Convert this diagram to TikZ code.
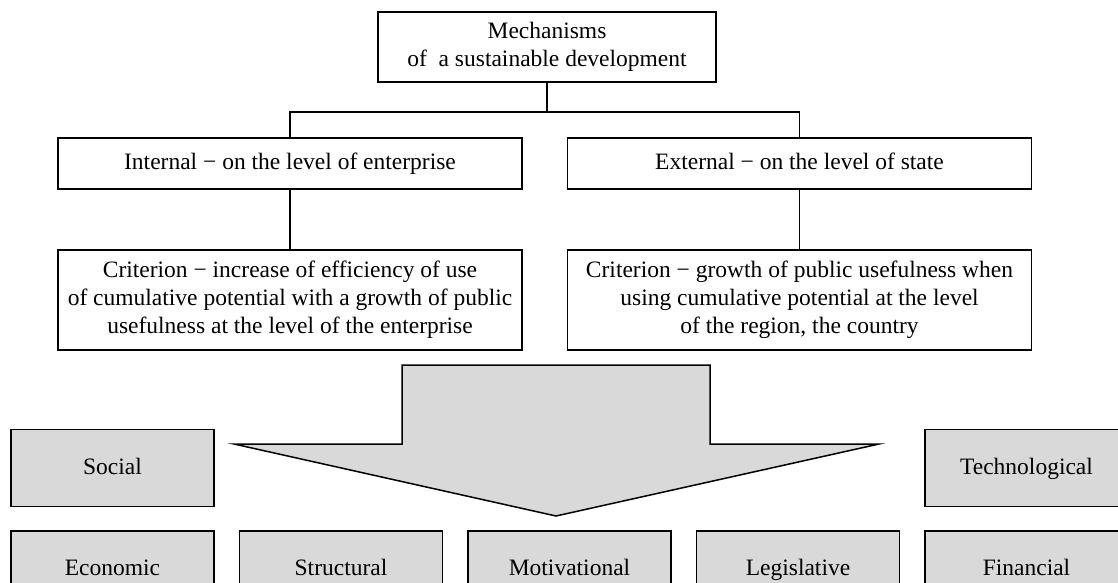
\documentclass[tikz,border=0pt]{standalone}
\usepackage{fontspec}
\setmainfont{Liberation Serif}
\usetikzlibrary{positioning}

\begin{document}
\begin{tikzpicture}[x=1pt, y=-1pt,
    frame/.style={rectangle, draw=black, line width=1.5pt, fill=white,
        text centered, align=center, inner sep=0pt, font=\fontsize{23.5}{28}\selectfont},
    level/.style={frame, minimum width=464pt, minimum height=51pt,
        text height=17pt, text depth=5pt},
    crit/.style={frame, minimum width=464pt, minimum height=100pt},
    kind/.style={frame, fill=black!15, minimum width=203pt, minimum height=77pt,
        text height=17pt, text depth=5pt},
    link/.style={line width=1.5pt}
]
\useasboundingbox (0,0) rectangle (1118,583);
\clip (0,0) rectangle (1118,583);

\node (Mech00) [frame, minimum width=338pt, minimum height=70pt] at (547,47)
    {Mechanisms\\of\enspace a sustainable development};
\node (Level01) [level] at (290,163.5) {Internal − on the level of enterprise};
\node (Level02) [level] at (799.5,163.5) {External − on the level of state};
\node (Crit01) [crit] at (290,300)
    {Criterion − increase of efficiency of use\\of cumulative potential with a growth of public\\usefulness at the level of the enterprise};
\node (Crit02) [crit] at (799.5,300)
    {Criterion − growth of public usefulness when\\using cumulative potential at the level\\of the region, the country};
\coordinate (Split00) at (547,112);

\draw[link] (Mech00) -- (Split00);
\draw[link] (Level01.north) |- (Split00) -| (Level02.north);
\draw[link] (Level01) -- (Crit01);
\draw[link] (Level02) -- (Crit02);

\draw[link, fill=black!15] (402,365) -- (710,365) -- (710,444) -- (879,444)
    -- (556,516) -- (234,444) -- (402,444) -- cycle;

\node (Kind01) [kind] at (112.5,569.5) {Economic};
\node (Kind02) [kind, right=24pt of Kind01] {Structural};
\node (Kind03) [kind, right=24pt of Kind02] {Motivational};
\node (Kind04) [kind, right=24pt of Kind03] {Legislative};
\node (Kind05) [kind, right=24pt of Kind04] {Financial};
\node (Kind06) [kind, above=23pt of Kind01] {Social};
\node (Kind07) [kind, above=23pt of Kind05] {Technological};
\end{tikzpicture}
\end{document}
